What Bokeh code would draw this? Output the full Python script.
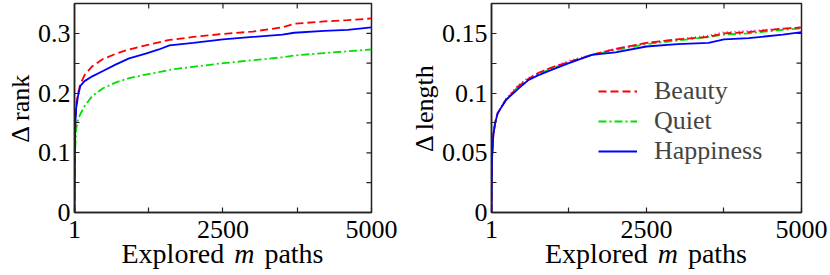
import math
from bokeh.plotting import figure
from bokeh.models import FixedTicker, Range1d, Legend, LegendItem, Div
from bokeh.layouts import row, column
from bokeh.embed import file_html
from bokeh.resources import INLINE

# ---------------- data ----------------
rank_x = [1, 10, 30, 60, 100, 170, 300, 480, 700, 920, 1200, 1420, 1600, 2000,
          2500, 3000, 3500, 3700, 4200, 4600, 5000]
rank_beauty = [0, 0.13, 0.18, 0.20, 0.215, 0.23, 0.245, 0.257, 0.266, 0.273, 0.28,
               0.285, 0.289, 0.294, 0.299, 0.303, 0.31, 0.316, 0.32, 0.322, 0.325]
rank_quiet = [0, 0.10, 0.14, 0.155, 0.165, 0.178, 0.195, 0.208, 0.218, 0.225, 0.231,
              0.235, 0.239, 0.244, 0.25, 0.255, 0.26, 0.263, 0.267, 0.27, 0.273]
rank_happiness = [0, 0.14, 0.175, 0.195, 0.212, 0.22, 0.228, 0.237, 0.248, 0.258, 0.266,
                  0.273, 0.28, 0.284, 0.29, 0.294, 0.298, 0.301, 0.304, 0.306, 0.31]

len_x = [1, 10, 30, 60, 100, 230, 440, 600, 760, 1000, 1250, 1620, 2000, 2500,
         3000, 3500, 3750, 4150, 4700, 5000]
len_beauty = [0, 0.045, 0.065, 0.075, 0.083, 0.094, 0.106, 0.112, 0.117, 0.122, 0.126,
              0.132, 0.137, 0.142, 0.145, 0.147, 0.150, 0.151, 0.154, 0.155]
len_quiet = [0, 0.045, 0.065, 0.075, 0.083, 0.094, 0.106, 0.112, 0.116, 0.121, 0.126,
             0.132, 0.136, 0.141, 0.144, 0.147, 0.149, 0.150, 0.153, 0.154]
len_happiness = [0, 0.045, 0.065, 0.075, 0.083, 0.094, 0.104, 0.111, 0.115, 0.120, 0.125,
                 0.132, 0.134, 0.139, 0.141, 0.142, 0.145, 0.146, 0.149, 0.151]
len_extra = [0, 0.045, 0.065, 0.076, 0.084, 0.095, 0.107, 0.113, 0.117, 0.122, 0.127,
             0.132, 0.137, 0.142, 0.145, 0.148, 0.151, 0.152, 0.154, 0.155]

x_ticks = [1, 2500, 5000]
x_minor = [1250, 3750]
rank_ticks = [0, 0.1, 0.2, 0.3]
rank_minor = [0.05, 0.15, 0.25, 0.35]
len_ticks = [0, 0.05, 0.1, 0.15]
len_minor = [0.025, 0.075, 0.125, 0.175]
x_title_html = "Explored <i>m</i> paths"

FONT = "Liberation Serif"
FS = "26px"
AX = "#222222"
X0, X1 = 1, 5000
FRAME_H = 209
TOP_B = 3
BOT_B = 36
TITLE_H = 30
TITLE_PULL = -7


def style_axis(ax, ticks, minor, fmt):
    ax.ticker = FixedTicker(ticks=ticks, minor_ticks=minor)
    ax.major_tick_in = 5
    ax.major_tick_out = 0
    ax.minor_tick_in = 5
    ax.minor_tick_out = 0
    ax.axis_line_color = AX
    ax.axis_line_width = 1.5
    ax.major_tick_line_color = AX
    ax.minor_tick_line_color = AX
    ax.major_tick_line_width = 1.2
    ax.minor_tick_line_width = 1.2
    ax.major_label_text_font = FONT
    ax.major_label_text_font_size = FS
    ax.major_label_text_color = "black"
    ax.major_label_standoff = 4
    ax.axis_label_text_font = FONT
    ax.axis_label_text_font_size = FS
    ax.axis_label_text_font_style = "normal"
    ax.axis_label_text_color = "black"
    ax.major_label_overrides = fmt


def make_fig(ylabel, yend, yticks, yminor, yfmt, left_b, fw, right_b):
    p = figure(frame_width=fw, frame_height=FRAME_H, output_backend="svg",
               toolbar_location=None, x_range=Range1d(X0, X1),
               y_range=Range1d(0, yend), min_border_left=left_b,
               min_border_right=right_b, min_border_top=TOP_B, min_border_bottom=BOT_B)
    p.grid.visible = False
    p.outline_line_color = AX
    p.outline_line_width = 1.5
    p.background_fill_color = "white"
    p.border_fill_color = "white"
    style_axis(p.xaxis[0], x_ticks, x_minor, {1: "1", 2500: "2500", 5000: "5000"})
    p.xaxis[0].major_label_standoff = 8
    style_axis(p.yaxis[0], yticks, yminor, yfmt)
    p.yaxis[0].axis_label = ylabel
    p.yaxis[0].axis_label_standoff = 0
    # inward ticks on the top and right edges (half of each dash is clipped by the frame)
    tx = x_minor + x_ticks[1:-1]
    p.scatter(tx, [yend] * len(tx), marker="dash", size=10,
              angle=math.pi / 2, line_color=AX, line_width=1.2)
    right_y = yticks[1:] + yminor[:-1]
    p.scatter([X1] * len(right_y), right_y, marker="dash", size=10,
              line_color=AX, line_width=1.2)
    return p


def make_title(left_b, fw, right_b):
    # x-axis title with an italic "m", centred under the plotting frame
    width = left_b + fw + right_b
    html = ('<div style="width:%dpx;padding-left:%dpx;box-sizing:border-box;'
            'text-align:center;font-family:\'Liberation Serif\';font-size:28px;'
            'word-spacing:3px;line-height:26px;color:black;white-space:nowrap;">%s</div>'
            % (width, left_b - right_b, x_title_html))
    return Div(text=html, width=width, height=TITLE_H, margin=(TITLE_PULL, 0, 0, 0))


L1, W1, R1 = 74, 297, 32
L2, W2, R2 = 88, 310, 29

p1 = make_fig("\u0394 rank", 0.35, rank_ticks, rank_minor,
              {0: "0", 0.1: "0.1", 0.2: "0.2", 0.3: "0.3"}, L1, W1, R1)
p1.line(rank_x, rank_quiet, line_color="#00e000", line_width=1.8, line_dash="8 3 2 3")
p1.line(rank_x, rank_beauty, line_color="#ff0000", line_width=1.8, line_dash="8 4")
p1.line(rank_x, rank_happiness, line_color="#0000ff", line_width=1.8)

p2 = make_fig("\u0394 length", 0.175, len_ticks, len_minor,
              {0: "0", 0.05: "0.05", 0.1: "0.1", 0.15: "0.15"}, L2, W2, R2)
rq = p2.line(len_x, len_quiet, line_color="#00e000", line_width=1.8, line_dash="8 3 2 3")
p2.line(len_x, len_extra, line_color="#ff00ff", line_width=1.8, line_dash="1 3")
rb = p2.line(len_x, len_beauty, line_color="#ff0000", line_width=1.8, line_dash="8 4")
rh = p2.line(len_x, len_happiness, line_color="#0000ff", line_width=1.8)

legend = Legend(items=[LegendItem(label="Beauty", renderers=[rb]),
                       LegendItem(label="Quiet", renderers=[rq]),
                       LegendItem(label="Happiness", renderers=[rh])],
                location=(107, 46), orientation="vertical",
                label_text_font=FONT, label_text_font_size=FS,
                glyph_width=39, label_standoff=17, spacing=0, padding=0, margin=0,
                border_line_color=None, background_fill_alpha=0)
p2.add_layout(legend, "center")

t1 = make_title(L1, W1, R1)
t2 = make_title(L2, W2, R2)

layout = row(column(p1, t1, spacing=0), column(p2, t2, spacing=0), spacing=0)
open("out.html", "w").write(file_html(layout, INLINE))
